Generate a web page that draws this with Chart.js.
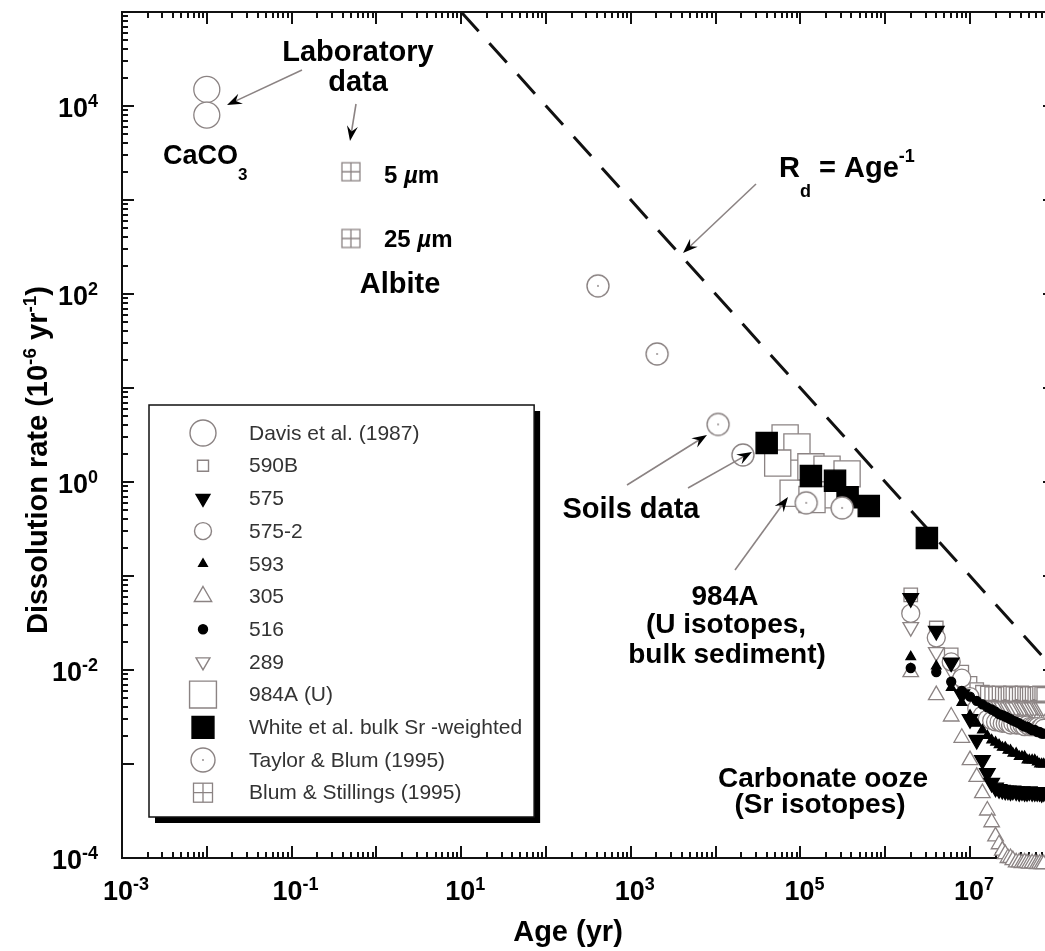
<!DOCTYPE html>
<html>
<head>
<meta charset="utf-8">
<style>
  html, body { margin: 0; padding: 0; background: #fff; overflow: hidden; }
  #chart { display: block; }
</style>
<script src="https://cdn.jsdelivr.net/npm/chart.js@4.4.1/dist/chart.umd.min.js"></script>
</head>
<body>
<canvas id="chart" width="1045" height="951"></canvas>
<script>
// ---- data (age in yr, rate in 10^-6 yr^-1) ----
const caco3Ages = [0.01, 0.01];
const caco3Rates = [15000, 8000];

const albiteAges = [0.5, 0.5];
const albiteRates = [2000, 390];

const soilAges = [410, 2040, 10700, 21000, 117000, 310000];
const soilRates = [122, 23, 4.1, 1.94, 0.6, 0.53];

const u984Ages = [66000, 91000, 54000, 82000, 133000, 206000, 355000, 236000, 137000];
const u984Rates = [2.94, 2.36, 1.59, 0.76, 1.45, 1.37, 1.22, 0.73, 0.65];

const srBulkAges = [40000, 133000, 256000, 360000, 640000, 3100000];
const srBulkRates = [2.6, 1.16, 1.03, 0.69, 0.556, 0.254];

// carbonate ooze cores, Sr isotopes
const oozeAges = [2e6, 4e6, 6e6, 8e6, 10e6, 12e6, 14e6, 16e6, 18e6, 20e6, 22e6, 24e6, 26e6, 28e6,
                  30e6, 32e6, 35e6, 38e6, 41e6, 44e6, 47e6, 50e6, 54e6, 58e6, 62e6, 66e6, 70e6, 74e6];
const rate590B = [0.063, 0.028, 0.0145, 0.0095, 0.0072, 0.0062, 0.0058, 0.0057, 0.0056, 0.0056, 0.0057, 0.0056, 0.0055, 0.0056,
                  0.0057, 0.0056, 0.0055, 0.0056, 0.0057, 0.0056, 0.0055, 0.0056, 0.0056, 0.0055, 0.0056, 0.0057, 0.0056, 0.0055];
const rate575 = [0.058, 0.026, 0.012, 0.0055, 0.003, 0.0018, 0.0011, 0.0008, 0.00063, 0.00056, 0.00054, 0.00053, 0.00052, 0.00052,
                 0.00051, 0.00052, 0.00051, 0.0005, 0.00051, 0.0005, 0.0005, 0.00051, 0.0005, 0.0005, 0.0005, 0.0005, 0.00049, 0.0005];
const rate575b = [0.04, 0.022, 0.0122, 0.0082, 0.0052, 0.0039, 0.0033, 0.003, 0.0029, 0.0028, 0.0028, 0.0027, 0.0027, 0.0027,
                  0.0026, 0.0027, 0.0026, 0.0026, 0.0026, 0.0025, 0.0026, 0.0025, 0.0025, 0.0025, 0.0025, 0.0024, 0.0025, 0.0024];
const rate593 = [0.0138, 0.011, 0.0065, 0.0045, 0.0033, 0.0027, 0.0023, 0.002, 0.0018, 0.0017, 0.0016, 0.0015, 0.0015, 0.0014,
                 0.0014, 0.0013, 0.0013, 0.0012, 0.0012, 0.0012, 0.0011, 0.0011, 0.0011, 0.0011, 0.00105, 0.001, 0.001, 0.001];
const rate305 = [0.0095, 0.0054, 0.0032, 0.0019, 0.0011, 0.00073, 0.00049, 0.00032, 0.00024, 0.00017, 0.00014, 0.00012, 0.00011, 0.0001,
                 0.0001, 0.000095, 0.00009, 0.00009, 0.000088, 0.00009, 0.000088, 0.000087, 0.000088, 0.000087, 0.000086, 0.000087, 0.000086, 0.000086];
const rate516 = [0.0105, 0.0095, 0.0075, 0.006, 0.0052, 0.0047, 0.0043, 0.004, 0.0038, 0.0036, 0.0034, 0.0033, 0.0032, 0.0031,
                 0.003, 0.0029, 0.0028, 0.0027, 0.0026, 0.0025, 0.0025, 0.0024, 0.0023, 0.0023, 0.0022, 0.0022, 0.0021, 0.0021];
const rate289 = [0.0286, 0.0155, 0.01, 0.0069, 0.0054, 0.0047, 0.0044, 0.0042, 0.0041, 0.0041, 0.0041, 0.004, 0.0041, 0.004,
                 0.0041, 0.004, 0.004, 0.0041, 0.004, 0.004, 0.0041, 0.004, 0.004, 0.004, 0.0041, 0.004, 0.004, 0.004];

// R_d = Age^-1 reference line
const lineAges = [10, 1e8];
const lineRates = [1e5, 0.01];

const xTickExps = [-3, -1, 1, 3, 5, 7];
const yTickExps = [-4, -2, 0, 2, 4];

const legendNames = ["Davis et al. (1987)", "590B", "575", "575-2", "593", "305", "516", "289",
                     "984A (U)", "White et al. bulk Sr -weighted", "Taylor & Blum (1995)", "Blum & Stillings (1995)"];

// ---- styles ----
const GRAY = "#8b8383";
const FONT = "'Liberation Sans', Arial, Helvetica, sans-serif";

function pts(xs, ys) {
    return xs.map((x, i) => ({ x: x, y: ys[i] }));
}

// circle with a dot (Taylor & Blum)
function drawDotCircle(g, x, y, r) {
    g.beginPath();
    g.arc(x, y, r, 0, Math.PI * 2);
    g.fillStyle = "#fff";
    g.fill();
    g.strokeStyle = GRAY;
    g.lineWidth = 1.4;
    g.stroke();
    g.beginPath();
    g.arc(x, y, 0.9, 0, Math.PI * 2);
    g.fillStyle = GRAY;
    g.fill();
}

// square with a cross (Blum & Stillings)
function drawCrossSquare(g, x, y, s) {
    const h = s / 2;
    g.fillStyle = "#fff";
    g.fillRect(x - h, y - h, s, s);
    g.strokeStyle = GRAY;
    g.lineWidth = 1.3;
    g.strokeRect(x - h, y - h, s, s);
    g.beginPath();
    g.moveTo(x, y - h); g.lineTo(x, y + h);
    g.moveTo(x - h, y); g.lineTo(x + h, y);
    g.stroke();
}

function symbolCanvas(size, fn) {
    const c = document.createElement("canvas");
    c.width = size;
    c.height = size;
    fn(c.getContext("2d"), size / 2);
    return c;
}

const dotCircleImg = symbolCanvas(26, (g, c) => drawDotCircle(g, c, c, 11));
const crossSquareImg = symbolCanvas(22, (g, c) => drawCrossSquare(g, c, c, 18));

// text with super/subscripts: parts = [text, size, dy, style]
function richText(ctx, parts, x, y, align) {
    let w = 0;
    parts.forEach(p => {
        ctx.font = (p[3] || "") + " bold " + p[1] + "px " + FONT;
        w += ctx.measureText(p[0]).width;
    });
    let cx = align === "center" ? x - w / 2 : align === "right" ? x - w : x;
    ctx.textAlign = "left";
    ctx.textBaseline = "alphabetic";
    parts.forEach(p => {
        ctx.font = (p[3] || "") + " bold " + p[1] + "px " + FONT;
        ctx.fillText(p[0], cx, y + (p[2] || 0));
        cx += ctx.measureText(p[0]).width;
    });
}

function arrow(ctx, x1, y1, x2, y2) {
    const ang = Math.atan2(y2 - y1, x2 - x1);
    const len = 15, half = 5.5;
    ctx.strokeStyle = GRAY;
    ctx.lineWidth = 1.6;
    ctx.beginPath();
    ctx.moveTo(x1, y1);
    ctx.lineTo(x2 - Math.cos(ang) * 8, y2 - Math.sin(ang) * 8);
    ctx.stroke();
    ctx.save();
    ctx.translate(x2, y2);
    ctx.rotate(ang);
    ctx.fillStyle = "#000";
    ctx.beginPath();
    ctx.moveTo(0, 0);
    ctx.lineTo(-len, -half);
    ctx.lineTo(-len * 0.65, 0);
    ctx.lineTo(-len, half);
    ctx.closePath();
    ctx.fill();
    ctx.restore();
}

// ---- axes: frame, inward ticks, labels ----
// the right-hand frame lies just outside the picture, so only three sides are drawn
const frame = {
    id: "frame",
    beforeDatasetsDraw(chart) {
        const { ctx, chartArea: a, scales: { x, y } } = chart;
        ctx.save();
        ctx.strokeStyle = "#111";
        ctx.lineWidth = 2;
        ctx.beginPath();
        ctx.moveTo(chart.width, a.top);
        ctx.lineTo(a.left, a.top);
        ctx.lineTo(a.left, a.bottom);
        ctx.lineTo(chart.width, a.bottom);
        ctx.stroke();
        ctx.beginPath();
        for (let e = -3; e <= 8; e++) {
            for (let m = 1; m < 10; m++) {
                const v = m * Math.pow(10, e);
                const px = Math.round(x.getPixelForValue(v));
                if (px > a.left + 1 && px < a.right) {
                    const len = m === 1 ? 12 : 6;
                    ctx.moveTo(px, a.bottom); ctx.lineTo(px, a.bottom - len);
                    ctx.moveTo(px, a.top); ctx.lineTo(px, a.top + len);
                }
                const py = Math.round(y.getPixelForValue(v));
                if (py > a.top + 1 && py < a.bottom - 1) {
                    const len = m === 1 ? 12 : 6;
                    ctx.moveTo(a.left, py); ctx.lineTo(a.left + len, py);
                    if (m === 1) { ctx.moveTo(a.right, py); ctx.lineTo(a.right - 2, py); }
                }
            }
        }
        ctx.stroke();

        ctx.fillStyle = "#000";
        xTickExps.forEach(e => {
            const px = x.getPixelForValue(Math.pow(10, e));
            richText(ctx, [["10", 27], [String(e), 18, -10]], px + 4, 900, "center");
        });
        yTickExps.forEach(e => {
            const py = y.getPixelForValue(Math.pow(10, e));
            richText(ctx, [["10", 27], [String(e), 18, -10]], 98, py + 11, "right");
        });

        richText(ctx, [["Age (yr)", 29]], 568, 941, "center");
        ctx.save();
        ctx.translate(47, 460);
        ctx.rotate(-Math.PI / 2);
        richText(ctx, [["Dissolution rate (10", 29], ["-6", 19, -11], [" yr", 29], ["-1", 19, -11], [")", 29]], 0, 0, "center");
        ctx.restore();
        ctx.restore();
    }
};

// ---- annotations and legend ----
const notes = {
    id: "notes",
    afterDatasetsDraw(chart) {
        const ctx = chart.ctx;
        ctx.save();
        ctx.fillStyle = "#000";
        richText(ctx, [["Laboratory", 29]], 358, 61, "center");
        richText(ctx, [["data", 29]], 358, 91, "center");
        richText(ctx, [["CaCO", 27], ["3", 17, 16]], 163, 164, "left");
        richText(ctx, [["5 ", 24], ["\u00b5", 24, 0, "italic"], ["m", 24]], 384, 183, "left");
        richText(ctx, [["25 ", 24], ["\u00b5", 24, 0, "italic"], ["m", 24]], 384, 247, "left");
        richText(ctx, [["Albite", 29]], 400, 293, "center");
        richText(ctx, [["R", 29], ["d", 18, 20], [" = Age", 29], ["-1", 18, -15]], 779, 177, "left");
        richText(ctx, [["Soils data", 29]], 631, 518, "center");
        richText(ctx, [["984A", 28]], 725, 605, "center");
        richText(ctx, [["(U isotopes,", 28]], 726, 633, "center");
        richText(ctx, [["bulk sediment)", 28]], 727, 663, "center");
        richText(ctx, [["Carbonate ooze", 28]], 823, 787, "center");
        richText(ctx, [["(Sr isotopes)", 28]], 820, 813, "center");

        arrow(ctx, 302, 70, 227, 105);
        arrow(ctx, 356, 104, 350, 141);
        arrow(ctx, 756, 184, 683, 253);
        arrow(ctx, 627, 485, 707, 435);
        arrow(ctx, 688, 488, 752, 452);
        arrow(ctx, 735, 570, 788, 497);
        ctx.restore();
    },
    afterDraw(chart) {
        const ctx = chart.ctx;
        const sx = 203, tx = 249;
        ctx.save();
        ctx.font = "21px " + FONT;
        const textW = Math.max(...legendNames.map(n => ctx.measureText(n).width));
        const bx = 149, by = 405, bh = 412;
        const bw = (tx - bx) + textW + 12;
        ctx.fillStyle = "#000";
        ctx.fillRect(bx + 6, by + 6, bw, bh);
        ctx.fillStyle = "#fff";
        ctx.fillRect(bx, by, bw, bh);
        ctx.strokeStyle = "#111";
        ctx.lineWidth = 1.5;
        ctx.strokeRect(bx, by, bw, bh);

        const syms = [
            { pointStyle: "circle", radius: 13, fill: "#fff", stroke: GRAY },
            { pointStyle: "rect", radius: 7.8, fill: "#fff", stroke: GRAY },
            { pointStyle: "triangle", radius: 8, rotation: 180, fill: "#000", stroke: "#000" },
            { pointStyle: "circle", radius: 8.5, fill: "#fff", stroke: GRAY },
            { pointStyle: "triangle", radius: 5, fill: "#000", stroke: "#000" },
            { pointStyle: "triangle", radius: 10, fill: "#fff", stroke: GRAY },
            { pointStyle: "circle", radius: 4.5, fill: "#000", stroke: "#000" },
            { pointStyle: "triangle", radius: 8, rotation: 180, fill: "#fff", stroke: GRAY },
            { pointStyle: "rect", radius: 19, fill: "#fff", stroke: GRAY },
            { pointStyle: "rect", radius: 15.5, fill: "#000", stroke: "#000" },
            { custom: "dot" },
            { custom: "cross" }
        ];
        legendNames.forEach((name, i) => {
            const yy = 433 + i * 32.7;
            const s = syms[i];
            if (s.custom === "dot") {
                drawDotCircle(ctx, sx, yy, 12);
            } else if (s.custom === "cross") {
                drawCrossSquare(ctx, sx, yy, 19);
            } else {
                ctx.fillStyle = s.fill;
                ctx.strokeStyle = s.stroke;
                ctx.lineWidth = 1.4;
                Chart.helpers.drawPoint(ctx, { pointStyle: s.pointStyle, radius: s.radius, rotation: s.rotation || 0, borderWidth: 1.4 }, sx, yy);
            }
            ctx.fillStyle = "#333";
            ctx.font = "21px " + FONT;
            ctx.textAlign = "left";
            ctx.textBaseline = "middle";
            ctx.fillText(name, tx, yy + 1);
        });
        ctx.restore();
    }
};

function scatterSet(label, data, style, order) {
    return Object.assign({
        label: label,
        data: data,
        showLine: false,
        clip: false,
        order: order,
        pointBorderWidth: 1.3
    }, style);
}

const datasets = [
    {
        label: "Rd = 1/Age",
        data: pts(lineAges, lineRates),
        showLine: true,
        borderColor: "#111",
        borderWidth: 3,
        borderDash: [26, 16],
        pointRadius: 0,
        order: 20
    },
    scatterSet("305", pts(oozeAges, rate305), { pointStyle: "triangle", pointRadius: 9, pointBackgroundColor: "#fff", pointBorderColor: GRAY }, 19),
    scatterSet("289", pts(oozeAges, rate289), { pointStyle: "triangle", pointRotation: 180, pointRadius: 9, pointBackgroundColor: "#fff", pointBorderColor: GRAY }, 18),
    scatterSet("590B", pts(oozeAges, rate590B), { pointStyle: "rect", pointRadius: 9.5, pointBackgroundColor: "#fff", pointBorderColor: GRAY }, 17),
    scatterSet("575-2", pts(oozeAges, rate575b), { pointStyle: "circle", pointRadius: 9, pointBackgroundColor: "#fff", pointBorderColor: GRAY }, 16),
    scatterSet("575", pts(oozeAges, rate575), { pointStyle: "triangle", pointRotation: 180, pointRadius: 9, pointBackgroundColor: "#000", pointBorderColor: "#000" }, 15),
    scatterSet("516", pts(oozeAges, rate516), { pointStyle: "circle", pointRadius: 4.5, pointBackgroundColor: "#000", pointBorderColor: "#000" }, 14),
    scatterSet("593", pts(oozeAges, rate593), { pointStyle: "triangle", pointRadius: 5.5, pointBackgroundColor: "#000", pointBorderColor: "#000" }, 13),
    scatterSet("984A (U)", pts(u984Ages, u984Rates), { pointStyle: "rect", pointRadius: 18.5, pointBackgroundColor: "#fff", pointBorderColor: GRAY }, 12),
    scatterSet("White et al. bulk Sr -weighted", pts(srBulkAges, srBulkRates), { pointStyle: "rect", pointRadius: 15, pointBackgroundColor: "#000", pointBorderColor: "#000" }, 11),
    scatterSet("Taylor & Blum (1995)", pts(soilAges, soilRates), { pointStyle: dotCircleImg, pointRadius: 11 }, 10),
    scatterSet("Davis et al. (1987)", pts(caco3Ages, caco3Rates), { pointStyle: "circle", pointRadius: 13, pointBackgroundColor: "#fff", pointBorderColor: GRAY }, 9),
    scatterSet("Blum & Stillings (1995)", pts(albiteAges, albiteRates), { pointStyle: crossSquareImg, pointRadius: 9 }, 8)
];

// x axis is cut by the right edge of the picture at about 7.66e7 yr
new Chart(document.getElementById("chart"), {
    type: "scatter",
    data: { datasets: datasets },
    options: {
        responsive: false,
        animation: false,
        events: [],
        layout: { autoPadding: false, padding: { left: 122, top: 12, right: 0, bottom: 93 } },
        plugins: { legend: { display: false }, tooltip: { enabled: false } },
        scales: {
            x: { type: "logarithmic", min: 1e-3, max: 7.66e7, display: false },
            y: { type: "logarithmic", min: 1e-4, max: 1e5, display: false }
        }
    },
    plugins: [frame, notes]
});
</script>
</body>
</html>
